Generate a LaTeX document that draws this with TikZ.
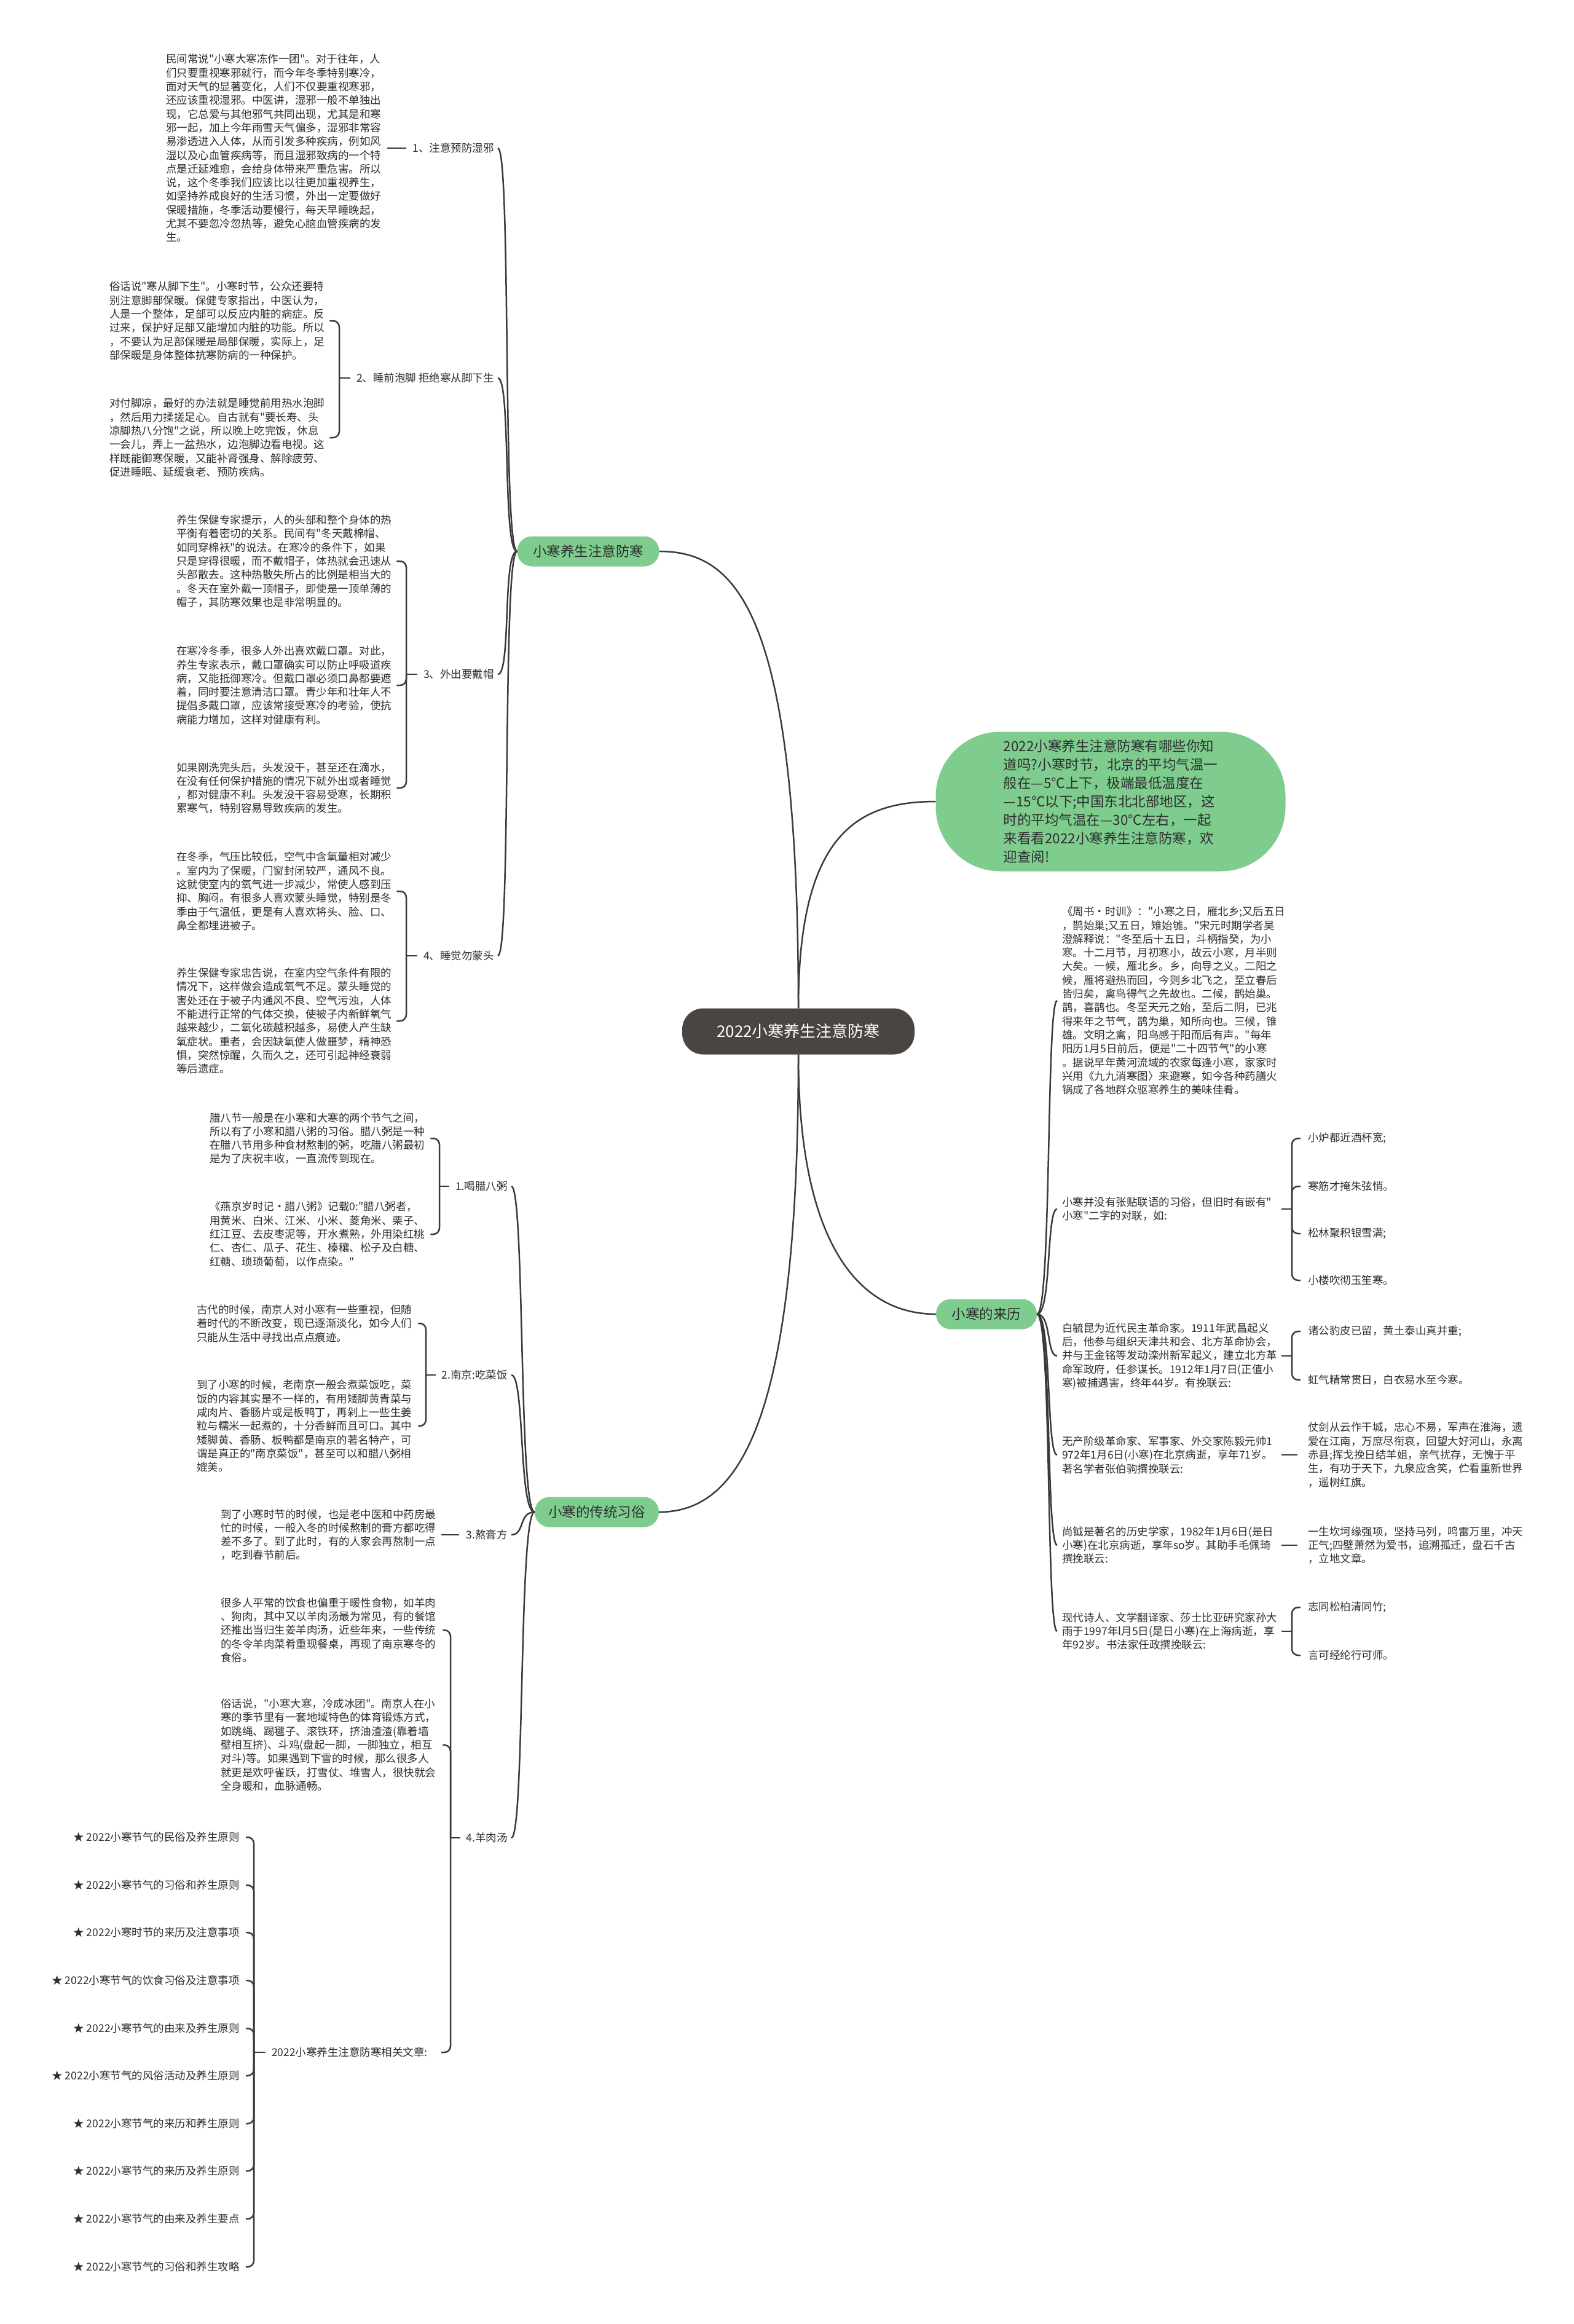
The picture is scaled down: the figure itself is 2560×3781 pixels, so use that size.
\documentclass[tikz,border=0pt]{standalone}
\usepackage{fontspec}
\newfontfamily\cjk{Noto Sans CJK SC}
\usetikzlibrary{calc}
\definecolor{gfill}{RGB}{126,205,143}
\definecolor{rootc}{RGB}{74,69,67}
\definecolor{linec}{RGB}{58,58,58}
\definecolor{txtc}{RGB}{45,45,45}
\newcommand\myfs[2]{\cjk\fontsize{#1}{#2}\selectfont}
\tikzset{
 conn/.style={draw=linec, line width=2.5pt},
 brk/.style={conn, rounded corners=10pt},
 txt/.style={font=\myfs{17.5}{22.3}, align=left, inner sep=0pt, anchor=west, text=txtc},
 lbl/.style={font=\myfs{17.5}{22.3}, inner sep=0pt, anchor=east, text=txtc},
 gnode/.style={fill=gfill, rounded corners=24pt, inner sep=0pt, minimum height=49pt, font=\myfs{22.5}{27}, text=txtc},
 bignode/.style={fill=gfill, rounded corners=105pt, inner sep=0pt, minimum width=569pt, minimum height=227pt, align=left, font=\myfs{22.5}{30}, text=txtc},
 rootbox/.style={fill=rootc, rounded corners=34pt, inner sep=0pt, minimum width=378pt, minimum height=75pt, font=\myfs{26}{30}, text=white}
}
\begin{document}
\begin{tikzpicture}[x=1pt,y=1pt]
\fill[white] (0,0) rectangle (2560,-3781);
\useasboundingbox (0,0) rectangle (2560,-3781);

% ---------- main nodes ----------
\node[rootbox] (root) at (1299,-1678) {2022小寒养生注意防寒};
\node[gnode, minimum width=231pt] (n1) at (957,-897) {小寒养生注意防寒};
\node[gnode, minimum width=202pt] (n2) at (971,-2460) {小寒的传统习俗};
\node[gnode, minimum width=164pt] (n3) at (1605,-2138) {小寒的来历};
\node[bignode] (intro) at (1807,-1304) {2022小寒养生注意防寒有哪些你知\\道吗?小寒时节，北京的平均气温一\\般在—5℃上下，极端最低温度在\\—15℃以下;中国东北北部地区，这\\时的平均气温在—30℃左右，一起\\来看看2022小寒养生注意防寒，欢\\迎查阅!};

\draw[conn] (root.north) .. controls +(0,641) and +(128,0) .. (n1.east);
\draw[conn] (root.north) .. controls +(0,280) and +(-130,0) .. (intro.west);
\draw[conn] (root.south) .. controls +(0,-600) and +(130,0) .. (n2.east);
\draw[conn] (root.south) .. controls +(0,-300) and +(-130,0) .. (n3.west);

% ---------- branch 1 ----------
\node[txt] (b11) at (270,-241) {民间常说"小寒大寒冻作一团"。对于往年，人\\们只要重视寒邪就行，而今年冬季特别寒冷，\\面对天气的显著变化，人们不仅要重视寒邪，\\还应该重视湿邪。中医讲，湿邪一般不单独出\\现，它总爱与其他邪气共同出现，尤其是和寒\\邪一起，加上今年雨雪天气偏多，湿邪非常容\\易渗透进入人体，从而引发多种疾病，例如风\\湿以及心血管疾病等，而且湿邪致病的一个特\\点是迁延难愈，会给身体带来严重危害。所以\\说，这个冬季我们应该比以往更加重视养生，\\如坚持养成良好的生活习惯，外出一定要做好\\保暖措施，冬季活动要慢行，每天早睡晚起，\\尤其不要忽冷忽热等，避免心脑血管疾病的发\\生。};
\node[lbl] (l11) at (804,-241) {1、注意预防湿邪};

\node[txt] (b21) at (178,-522) {俗话说"寒从脚下生"。小寒时节，公众还要特\\别注意脚部保暖。保健专家指出，中医认为，\\人是一个整体，足部可以反应内脏的病症。反\\过来，保护好足部又能增加内脏的功能。所以\\，不要认为足部保暖是局部保暖，实际上，足\\部保暖是身体整体抗寒防病的一种保护。};
\node[txt] (b22) at (178,-712) {对付脚凉，最好的办法就是睡觉前用热水泡脚\\，然后用力揉搓足心。自古就有"要长寿、头\\凉脚热八分饱"之说，所以晚上吃完饭，休息\\一会儿，弄上一盆热水，边泡脚边看电视。这\\样既能御寒保暖，又能补肾强身、解除疲劳、\\促进睡眠、延缓衰老、预防疾病。};
\node[lbl] (l12) at (804,-615) {2、睡前泡脚 拒绝寒从脚下生};

\node[txt] (b31) at (287,-913) {养生保健专家提示，人的头部和整个身体的热\\平衡有着密切的关系。民间有"冬天戴棉帽、\\如同穿棉袄"的说法。在寒冷的条件下，如果\\只是穿得很暖，而不戴帽子，体热就会迅速从\\头部散去。这种热散失所占的比例是相当大的\\。冬天在室外戴一顶帽子，即使是一顶单薄的\\帽子，其防寒效果也是非常明显的。};
\node[txt] (b32) at (287,-1115) {在寒冷冬季，很多人外出喜欢戴口罩。对此，\\养生专家表示，戴口罩确实可以防止呼吸道疾\\病，又能抵御寒冷。但戴口罩必须口鼻都要遮\\着，同时要注意清洁口罩。青少年和壮年人不\\提倡多戴口罩，应该常接受寒冷的考验，使抗\\病能力增加，这样对健康有利。};
\node[txt] (b33) at (287,-1282) {如果刚洗完头后，头发没干，甚至还在滴水，\\在没有任何保护措施的情况下就外出或者睡觉\\，都对健康不利。头发没干容易受寒，长期积\\累寒气，特别容易导致疾病的发生。};
\node[lbl] (l13) at (804,-1097) {3、外出要戴帽};

\node[txt] (b41) at (287,-1450) {在冬季，气压比较低，空气中含氧量相对减少\\。室内为了保暖，门窗封闭较严，通风不良。\\这就使室内的氧气进一步减少，常使人感到压\\抑、胸闷。有很多人喜欢蒙头睡觉，特别是冬\\季由于气温低，更是有人喜欢将头、脸、口、\\鼻全都埋进被子。};
\node[txt] (b42) at (287,-1661) {养生保健专家忠告说，在室内空气条件有限的\\情况下，这样做会造成氧气不足。蒙头睡觉的\\害处还在于被子内通风不良、空气污浊，人体\\不能进行正常的气体交换，使被子内新鲜氧气\\越来越少，二氧化碳越积越多，易使人产生缺\\氧症状。重者，会因缺氧使人做噩梦，精神恐\\惧，突然惊醒，久而久之，还可引起神经衰弱\\等后遗症。};
\node[lbl] (l14) at (804,-1555) {4、睡觉勿蒙头};

\foreach \l in {l11,l12,l13,l14}
  \draw[conn] (n1.west) .. controls +(-24,0) and +(22,0) .. ([xshift=6pt]\l.east);
\draw[conn] ([xshift=10pt]b11.east) -- ([xshift=-10pt]l11.west);
\coordinate (j12) at (552,-615);
\coordinate (j13) at (661,-1097);
\coordinate (j14) at (661,-1555);
\draw[conn] ([xshift=-10pt]l12.west) -- (j12);
\draw[brk] (j12) |- ([xshift=8pt]b21.east);
\draw[brk] (j12) |- ([xshift=8pt]b22.east);
\draw[conn] ([xshift=-10pt]l13.west) -- (j13);
\draw[brk] (j13) |- ([xshift=8pt]b31.east);
\draw[brk] (j13) |- ([xshift=8pt]b32.east);
\draw[brk] (j13) |- ([xshift=8pt]b33.east);
\draw[conn] ([xshift=-10pt]l14.west) -- (j14);
\draw[brk] (j14) |- ([xshift=8pt]b41.east);
\draw[brk] (j14) |- ([xshift=8pt]b42.east);

% ---------- branch 2 ----------
\node[txt] (b51) at (341,-1852) {腊八节一般是在小寒和大寒的两个节气之间，\\所以有了小寒和腊八粥的习俗。腊八粥是一种\\在腊八节用多种食材熬制的粥，吃腊八粥最初\\是为了庆祝丰收，一直流传到现在。};
\node[txt] (b52) at (341,-2008) {《燕京岁时记·腊八粥》记载0:"腊八粥者，\\用黄米、白米、江米、小米、菱角米、栗子、\\红江豆、去皮枣泥等，开水煮熟，外用染红桃\\仁、杏仁、瓜子、花生、榛穰、松子及白糖、\\红糖、琐琐葡萄，以作点染。"};
\node[lbl] (l21) at (826,-1930) {1.喝腊八粥};

\node[txt] (b61) at (320,-2153) {古代的时候，南京人对小寒有一些重视，但随\\着时代的不断改变，现已逐渐淡化，如今人们\\只能从生活中寻找出点点痕迹。};
\node[txt] (b62) at (320,-2320) {到了小寒的时候，老南京一般会煮菜饭吃，菜\\饭的内容其实是不一样的，有用矮脚黄青菜与\\咸肉片、香肠片或是板鸭丁，再剁上一些生姜\\粒与糯米一起煮的，十分香鲜而且可口。其中\\矮脚黄、香肠、板鸭都是南京的著名特产，可\\谓是真正的"南京菜饭"，甚至可以和腊八粥相\\媲美。};
\node[lbl] (l22) at (826,-2237) {2.南京:吃菜饭};

\node[txt] (b71) at (359,-2497) {到了小寒时节的时候，也是老中医和中药房最\\忙的时候，一般入冬的时候熬制的膏方都吃得\\差不多了。到了此时，有的人家会再熬制一点\\，吃到春节前后。};
\node[lbl] (l23) at (826,-2497) {3.熬膏方};

\node[txt] (b81) at (359,-2652) {很多人平常的饮食也偏重于暖性食物，如羊肉\\、狗肉，其中又以羊肉汤最为常见，有的餐馆\\还推出当归生姜羊肉汤，近些年来，一些传统\\的冬令羊肉菜肴重现餐桌，再现了南京寒冬的\\食俗。};
\node[txt] (b82) at (359,-2839) {俗话说，"小寒大寒，冷成冰团"。南京人在小\\寒的季节里有一套地域特色的体育锻炼方式，\\如跳绳、踢毽子、滚铁环，挤油渣渣(靠着墙\\壁相互挤)、斗鸡(盘起一脚，一脚独立，相互\\对斗)等。如果遇到下雪的时候，那么很多人\\就更是欢呼雀跃，打雪仗、堆雪人，很快就会\\全身暖和，血脉通畅。};
\node[lbl] (l24) at (826,-2990) {4.羊肉汤};
\node[lbl] (l25) at (696,-3339) {2022小寒养生注意防寒相关文章:};

\node[lbl] (s1) at (390,-2989) {★ 2022小寒节气的民俗及养生原则};
\node[lbl] (s2) at (390,-3067) {★ 2022小寒节气的习俗和养生原则};
\node[lbl] (s3) at (390,-3144) {★ 2022小寒时节的来历及注意事项};
\node[lbl] (s4) at (390,-3222) {★ 2022小寒节气的饮食习俗及注意事项};
\node[lbl] (s5) at (390,-3300) {★ 2022小寒节气的由来及养生原则};
\node[lbl] (s6) at (390,-3377) {★ 2022小寒节气的风俗活动及养生原则};
\node[lbl] (s7) at (390,-3455) {★ 2022小寒节气的来历和养生原则};
\node[lbl] (s8) at (390,-3532) {★ 2022小寒节气的来历及养生原则};
\node[lbl] (s9) at (390,-3610) {★ 2022小寒节气的由来及养生要点};
\node[lbl] (s10) at (390,-3688) {★ 2022小寒节气的习俗和养生攻略};

\foreach \l in {l21,l22,l23,l24}
  \draw[conn] (n2.west) .. controls +(-26,0) and +(22,0) .. ([xshift=6pt]\l.east);
\coordinate (j21) at (715,-1930);
\coordinate (j22) at (693,-2237);
\coordinate (j24) at (733,-2990);
\coordinate (j25) at (413,-3339);
\draw[conn] ([xshift=-10pt]l21.west) -- (j21);
\draw[brk] (j21) |- ([xshift=9pt]b51.east);
\draw[brk] (j21) |- ([xshift=9pt]b52.east);
\draw[conn] ([xshift=-10pt]l22.west) -- (j22);
\draw[brk] (j22) |- ([xshift=10pt]b61.east);
\draw[brk] (j22) |- ([xshift=10pt]b62.east);
\draw[conn] ([xshift=9pt]b71.east) -- ([xshift=-12pt]l23.west);
\draw[conn] ([xshift=-10pt]l24.west) -- (j24);
\draw[brk] (j24) |- ([xshift=11pt]b81.east);
\draw[brk] (j24) |- ([xshift=11pt]b82.east);
\draw[brk] (j24) |- ([xshift=22pt]l25.east);
\draw[conn] ([xshift=-10pt]l25.west) -- (j25);
\foreach \s in {s1,s2,s3,s4,s5,s6,s7,s8,s9,s10}
  \draw[brk] (j25) |- ([xshift=10pt]\s.east);

% ---------- branch 3 ----------
\node[txt] (r1) at (1728,-1628) {《周书·时训》："小寒之日，雁北乡;又后五日\\，鹊始巢;又五日，雉始雊。"宋元时期学者吴\\澄解释说："冬至后十五日，斗柄指癸，为小\\寒。十二月节，月初寒小，故云小寒，月半则\\大矣。一候，雁北乡。乡，向导之义。二阳之\\候，雁将避热而回，今则乡北飞之，至立春后\\皆归矣，禽鸟得气之先故也。二候，鹊始巢。\\鹊，喜鹊也。冬至天元之始，至后二阴，已兆\\得来年之节气，鹊为巢，知所向也。三候，锥\\雄。文明之禽，阳鸟感于阳而后有声。"每年\\阳历1月5日前后，便是"二十四节气"的小寒\\。据说早年黄河流域的农家每逢小寒，家家时\\兴用《九九消寒图〉来避寒，如今各种药膳火\\锅成了各地群众驱寒养生的美味佳肴。};
\node[txt] (r2) at (1728,-1967) {小寒并没有张贴联语的习俗，但旧时有嵌有"\\小寒"二字的对联，如:};
\node[txt] (c21) at (2128,-1852) {小炉都近酒杯宽;};
\node[txt] (c22) at (2128,-1930) {寒筋才掩朱弦悄。};
\node[txt] (c23) at (2128,-2007) {松林聚积银雪满;};
\node[txt] (c24) at (2128,-2083) {小楼吹彻玉笙寒。};
\node[txt] (r3) at (1728,-2206) {白毓昆为近代民主革命家。1911年武昌起义\\后，他参与组织天津共和会、北方革命协会，\\并与王金铭等发动滦州新军起义，建立北方革\\命军政府，任参谋长。1912年1月7日(正值小\\寒)被捕遇害，终年44岁。有挽联云:};
\node[txt] (c31) at (2128,-2166) {诸公豹皮已留，黄土泰山真并重;};
\node[txt] (c32) at (2128,-2245) {虹气精常贯日，白衣易水至今寒。};
\node[txt] (r4) at (1728,-2367) {无产阶级革命家、军事家、外交家陈毅元帅1\\972年1月6日(小寒)在北京病逝，享年71岁。\\著名学者张伯驹撰挽联云:};
\node[txt] (c41) at (2128,-2367) {仗剑从云作干城，忠心不易，军声在淮海，遗\\爱在江南，万庶尽衔哀，回望大好河山，永离\\赤县;挥戈挽日结羊姐，亲气扰存，无愧于平\\生，有功于天下，九泉应含笑，伫看重新世界\\，遥树红旗。};
\node[txt] (r5) at (1728,-2514) {尚钺是著名的历史学家，1982年1月6日(是日\\小寒)在北京病逝，享年so岁。其助手毛佩琦\\撰挽联云:};
\node[txt] (c51) at (2128,-2514) {一生坎坷缘强项，坚持马列，鸣雷万里，冲天\\正气;四壁萧然为爱书，追溯孤迁，盘石千古\\，立地文章。};
\node[txt] (r6) at (1728,-2654) {现代诗人、文学翻译家、莎士比亚研究家孙大\\雨于1997年l月5日(是日小寒)在上海病逝，享\\年92岁。书法家任政撰挽联云:};
\node[txt] (c61) at (2128,-2615) {志同松柏清同竹;};
\node[txt] (c62) at (2128,-2693) {言可经纶行可师。};

\foreach \r in {r1,r2,r3,r4,r5,r6}
  \draw[conn] (n3.east) .. controls +(24,0) and +(-18,0) .. ([xshift=-8pt]\r.west);
\coordinate (rs) at (2085,0);
\coordinate (rv) at (2102,0);
\draw[conn] (r2.east -| rs) -- (r2.east -| rv);
\foreach \c in {c21,c22,c23,c24}
  \draw[brk] (r2.east -| rv) |- ([xshift=-12pt]\c.west);
\draw[conn] (r3.east -| rs) -- (r3.east -| rv);
\foreach \c in {c31,c32}
  \draw[brk] (r3.east -| rv) |- ([xshift=-12pt]\c.west);
\draw[conn] (r4.east -| rs) -- ([xshift=-17pt]c41.west);
\draw[conn] (r5.east -| rs) -- ([xshift=-17pt]c51.west);
\draw[conn] (r6.east -| rs) -- (r6.east -| rv);
\foreach \c in {c61,c62}
  \draw[brk] (r6.east -| rv) |- ([xshift=-12pt]\c.west);
\end{tikzpicture}
\end{document}
